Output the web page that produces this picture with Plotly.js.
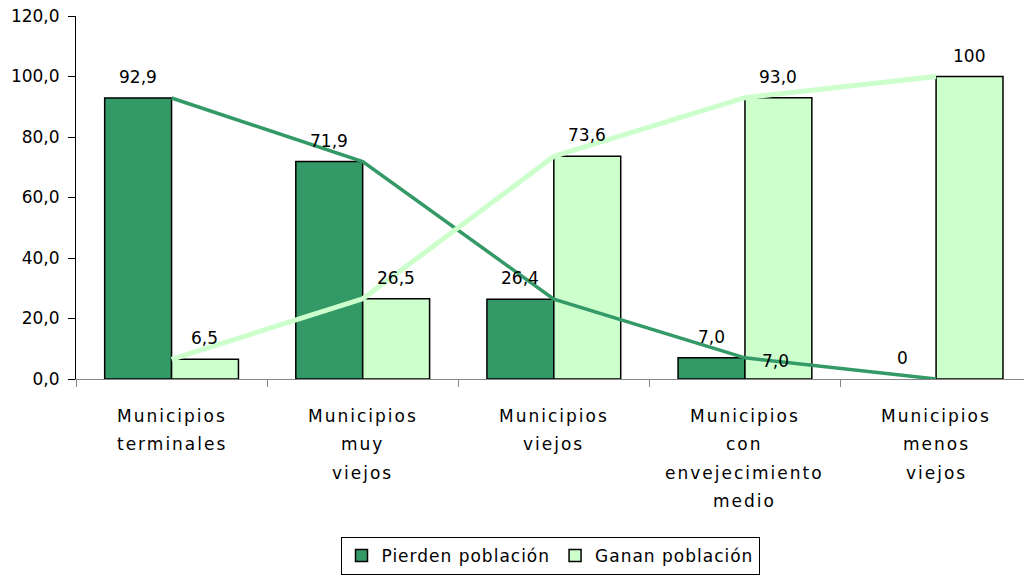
<!DOCTYPE html>
<html>
<head>
<meta charset="utf-8">
<script src="https://cdn.plot.ly/plotly-3.0.1.min.js"></script>
<style>
html,body{margin:0;padding:0;background:#fff;}
#chart{width:1024px;height:576px;}
</style>
</head>
<body>
<div id="chart"></div>
<script>
// ---- data ----
var categoryLines = [
  ["Municipios", "terminales"],
  ["Municipios", "muy", "viejos"],
  ["Municipios", "viejos"],
  ["Municipios", "con", "envejecimiento", "medio"],
  ["Municipios", "menos", "viejos"]
];
var categories = categoryLines.map(function (l) { return l.join(" "); });
var seriesNames = ["Pierden población", "Ganan población"];
var pierden = [92.9, 71.9, 26.4, 7.0, 0];
var ganan = [6.5, 26.5, 73.6, 93.0, 100];
var pierdenLabels = ["92,9", "71,9", "26,4", "7,0", "0"];
var gananLabels = ["6,5", "26,5", "73,6", "93,0", "100"];
var lineLabelIndex = 3; // the one line point carrying a label in the original
var yTicks = [0, 20, 40, 60, 80, 100, 120];

// ---- styles ----
var darkGreen = "#339966";
var lightGreen = "#CCFFCC";
var FONT = "DejaVu Sans";
var fontSize = 17;
var barHalfOffsetPx = 33.4;
var barOutline = 1.5;

function spaced(t, px) {
  return '<span style="letter-spacing:' + px + 'px">' + t + '</span>';
}
function outlineWidths(vals) {
  return vals.map(function (v) { return v === 0 ? 0 : barOutline; });
}

var traces = [
  {
    type: "bar", x: categories, y: pierden, name: spaced(seriesNames[0], 1),
    marker: { color: darkGreen, line: { color: "#000", width: outlineWidths(pierden) } },
    hoverinfo: "none"
  },
  {
    type: "bar", x: categories, y: ganan, name: spaced(seriesNames[1], 1),
    marker: { color: lightGreen, line: { color: "#000", width: outlineWidths(ganan) } },
    hoverinfo: "none"
  },
  {
    type: "scatter", mode: "lines", x: categories, y: pierden,
    line: { color: darkGreen, width: 3.5 }, showlegend: false, cliponaxis: false,
    hoverinfo: "none"
  },
  {
    type: "scatter", mode: "lines", x: categories, y: ganan,
    line: { color: lightGreen, width: 5 }, showlegend: false, cliponaxis: false,
    hoverinfo: "none"
  }
];

var annotations = [];
categories.forEach(function (c, i) {
  annotations.push({
    x: c, y: pierden[i], xref: "x", yref: "y", text: pierdenLabels[i],
    showarrow: false, xshift: -barHalfOffsetPx, yshift: 21, yanchor: "middle",
    font: { family: FONT, size: fontSize, color: "#000" }
  });
  annotations.push({
    x: c, y: ganan[i], xref: "x", yref: "y", text: gananLabels[i],
    showarrow: false, xshift: barHalfOffsetPx, yshift: 21, yanchor: "middle",
    font: { family: FONT, size: fontSize, color: "#000" }
  });
  categoryLines[i].forEach(function (line, j) {
    annotations.push({
      x: c, y: 0, xref: "x", yref: "y", text: spaced(line, 2),
      showarrow: false, yshift: -(37 + 28.4 * j), yanchor: "middle",
      font: { family: FONT, size: fontSize, color: "#000" }
    });
  });
});
annotations.push({
  x: categories[lineLabelIndex], y: pierden[lineLabelIndex], xref: "x", yref: "y",
  text: pierdenLabels[lineLabelIndex], showarrow: false, xshift: 31, yshift: -3,
  yanchor: "middle", font: { family: FONT, size: fontSize, color: "#000" }
});

var layout = {
  width: 1024, height: 576,
  margin: { l: 76, r: 0, t: 16, b: 197, pad: 0 },
  paper_bgcolor: "#fff", plot_bgcolor: "#fff",
  separators: ",.",
  barmode: "group", bargap: 0.3, bargroupgap: 0,
  showlegend: true,
  font: { family: FONT, size: fontSize, color: "#000" },
  xaxis: {
    type: "category", range: [-0.5, 4.46], tickson: "boundaries",
    ticks: "outside", ticklen: 7, tickcolor: "#868686", tickwidth: 1,
    showline: true, linecolor: "#868686", linewidth: 1,
    showgrid: false, zeroline: false, showticklabels: false, fixedrange: true
  },
  yaxis: {
    range: [0, 120], tickvals: yTicks, tickformat: ".1f",
    ticks: "outside", ticklen: 7, tickcolor: "#000", tickwidth: 1,
    showline: true, linecolor: "#000", linewidth: 1,
    showgrid: false, zeroline: false, ticklabelstandoff: 5,
    tickfont: { family: FONT, size: fontSize, color: "#000" }, fixedrange: true
  },
  legend: {
    orientation: "h", x: 0.5, xanchor: "center", y: -0.435, yanchor: "top",
    bordercolor: "#000", borderwidth: 1, bgcolor: "#fff",
    font: { family: FONT, size: fontSize, color: "#000" },
    traceorder: "normal"
  },
  annotations: annotations
};

Plotly.newPlot("chart", traces, layout, { displayModeBar: false, staticPlot: true });
</script>
</body>
</html>
